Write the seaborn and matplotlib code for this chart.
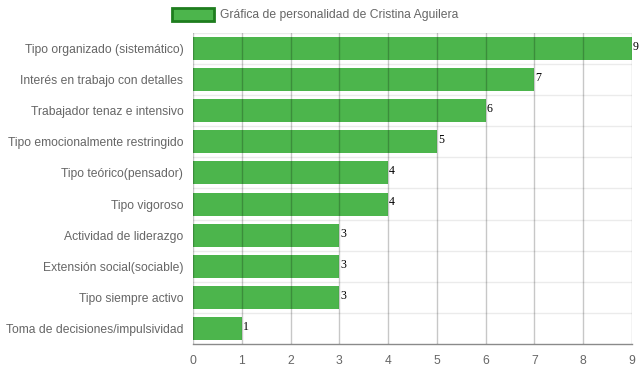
import matplotlib
matplotlib.use('Agg')
import matplotlib.pyplot as plt
import pandas as pd
import seaborn as sb
from matplotlib.patches import Rectangle

# data
rasgos = ['Tipo organizado (sistemático)', 'Interés en trabajo con detalles',
          'Trabajador tenaz e intensivo', 'Tipo emocionalmente restringido',
          'Tipo teórico(pensador)', 'Tipo vigoroso', 'Actividad de liderazgo',
          'Extensión social(sociable)', 'Tipo siempre activo',
          'Toma de decisiones/impulsividad']
puntos = [9, 7, 6, 5, 4, 4, 3, 3, 3, 1]
titulo = 'Gráfica de personalidad de Cristina Aguilera'

df = pd.DataFrame({'rasgo': rasgos, 'valor': puntos})

sb.set_style('white')
plt.rcParams['font.family'] = ['Liberation Sans', 'DejaVu Sans']

fig = plt.figure(figsize=(6.39, 3.72), dpi=100)
ax = fig.add_axes([193/639, 1-344/372, (632-193)/639, (344-33)/372])

sb.barplot(data=df, x='valor', y='rasgo', color='#4cb54c', saturation=1,
           width=0.74, orient='h', ax=ax, zorder=3, linewidth=0)

ax.set_xlim(0, 9)
ax.set_ylim(len(rasgos)-0.5, -0.5)
ax.set_xlabel('')
ax.set_ylabel('')

# grid: vertical lines on top of bars (semi transparent), horizontal lines between categories
for x in range(0, 10):
    ax.axvline(x, color='black', alpha=0.22, lw=1, zorder=4)
for i in range(len(rasgos)):
    ax.axhline(i-0.5, color='#ebebeb', lw=1, zorder=1)

for s in ['top', 'right', 'left']:
    ax.spines[s].set_visible(False)
ax.spines['bottom'].set_color('#8a8a8a')
ax.spines['bottom'].set_linewidth(1)

ax.set_xticks(range(0, 10))
ax.tick_params(axis='x', colors='#666666', labelsize=8.7, length=5, width=1, pad=3)
ax.tick_params(axis='x', color='#b0b0b0')
ax.tick_params(axis='y', colors='#666666', labelsize=8.7, length=0, pad=7)
ax.set_yticks([i - 0.5 for i in range(len(rasgos))], minor=True)
ax.tick_params(axis='y', which='minor', length=6, width=1, color='#e0e0e0')

# value labels
for i, v in enumerate(puntos):
    ax.text(v + 0.02, i - 0.05, str(v), family='Liberation Serif', fontsize=8.6,
            color='black', ha='left', va='center', zorder=5)

# legend on top
fig.patches.append(Rectangle((172/639, 1-21/372), 42/639, 13/372, transform=fig.transFigure,
                             facecolor='#4cb54c', edgecolor='#1e7d1e', lw=2))
fig.text(220/639, 1-15/372, titulo, fontsize=8.7, color='#666666', va='center', ha='left')

fig.savefig('out.png', dpi=100)
